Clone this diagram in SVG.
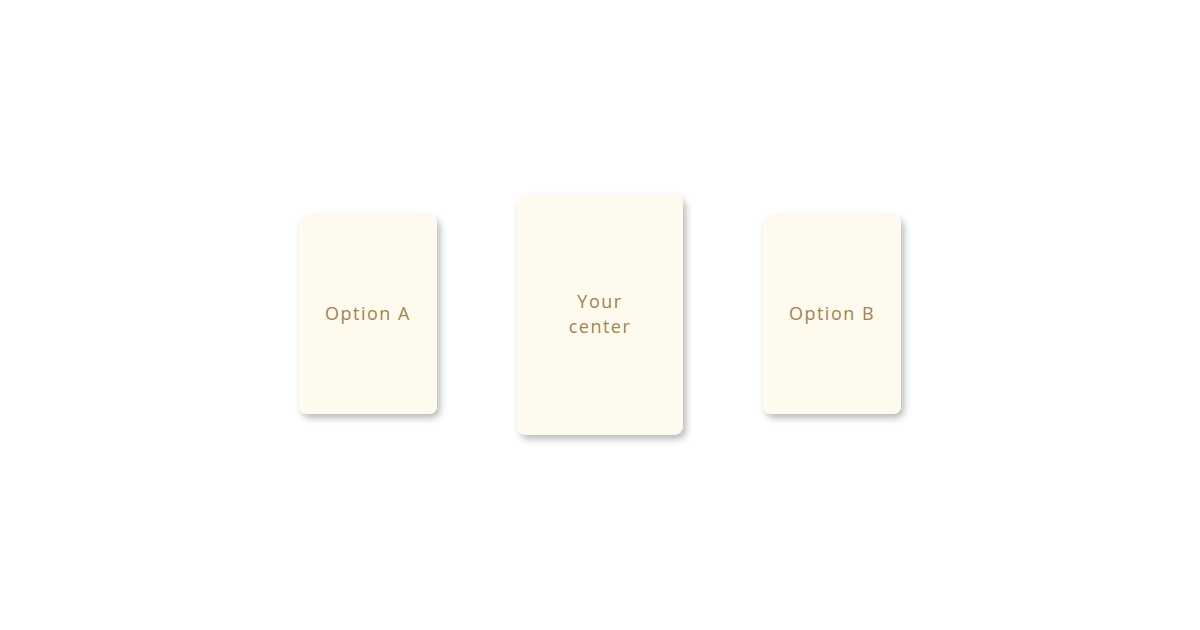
<svg xmlns="http://www.w3.org/2000/svg" width="1200" height="630" viewBox="0 0 1200 630">
<defs>
<filter id="sh" x="-20%" y="-20%" width="150%" height="150%">
<feDropShadow dx="3" dy="4" stdDeviation="3.5" flood-color="#000" flood-opacity="0.28"/>
</filter>
<style>
.card{fill:#FEFBEE;filter:url(#sh)}
.t{font-family:"Open Sans","Noto Sans",sans-serif;font-size:18px;fill:#A4824F;text-anchor:middle;letter-spacing:1.5px}
</style>
</defs>
<rect width="1200" height="630" fill="#fff"/>
<g id="option-a"><rect class="card" x="299" y="215" width="138" height="199" rx="8"/><text class="t" x="368" y="320">Option A</text></g>
<g id="center"><rect class="card" x="517" y="195" width="166" height="240" rx="9"/><text class="t" x="600" y="308">Your</text><text class="t" x="600" y="333">center</text></g>
<g id="option-b"><rect class="card" x="763" y="215" width="138" height="199" rx="8"/><text class="t" x="832" y="320">Option B</text></g>
<g id="connectors"/>
</svg>
